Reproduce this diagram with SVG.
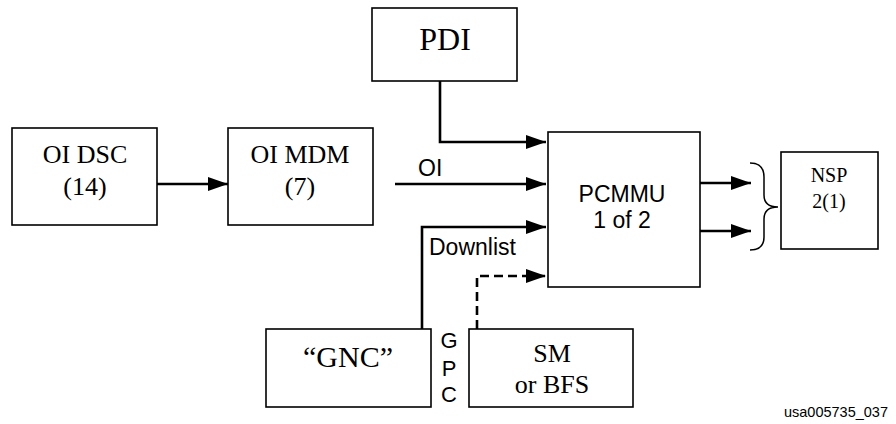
<svg xmlns="http://www.w3.org/2000/svg" width="896" height="424" viewBox="0 0 896 424">
<style>
.box{fill:#fff;stroke:#000;stroke-width:1.6}
.serif{font-family:"Liberation Serif","Times New Roman",serif;fill:#000;text-anchor:middle}
.sans{font-family:"Liberation Sans",Arial,sans-serif;fill:#000}
.conn{fill:none;stroke:#000;stroke-width:2.6}
.dash{stroke-dasharray:9,5}
</style>
<defs>
<marker id="ah" viewBox="0 0 20 14" refX="20" refY="7" markerWidth="20" markerHeight="14" markerUnits="userSpaceOnUse" orient="auto">
<path d="M0,0 L20,7 L0,14 z" fill="#000"/>
</marker>
</defs>
<rect width="896" height="424" fill="#fff"/>
<g id="connectors">
<path class="conn" d="M157,184 L228,184" marker-end="url(#ah)"/>
<path class="conn" d="M440,81 L440,142 L546,142" marker-end="url(#ah)"/>
<path class="conn" d="M395,184 L546,184" marker-end="url(#ah)"/>
<path class="conn" d="M422,329 L422,227 L546,227" marker-end="url(#ah)"/>
<path class="conn dash" d="M477,329 L477,276 L546,276" marker-end="url(#ah)"/>
<path class="conn" d="M700,183 L751,183" marker-end="url(#ah)"/>
<path class="conn" d="M700,231 L751,231" marker-end="url(#ah)"/>
<path fill="none" stroke="#000" stroke-width="1.5" d="M750,163 Q764,163 764,177 L764,195 Q764,207 778,207 Q764,207 764,219 L764,237 Q764,250 750,250"/>
<text class="sans" x="418" y="176" font-size="23">OI</text>
<text class="sans" x="429" y="255" font-size="23">Downlist</text>
<g class="sans" font-size="22" text-anchor="middle">
<text x="449" y="348">G</text>
<text x="449" y="376">P</text>
<text x="449" y="402">C</text>
</g>
</g>
<g id="pdi">
<rect class="box" x="372" y="8" width="145" height="73"/>
<text class="serif" x="445" y="50" font-size="32">PDI</text>
</g>
<g id="oidsc">
<rect class="box" x="12" y="128" width="145" height="97"/>
<text class="serif" x="85" y="163" font-size="26">OI DSC</text>
<text class="serif" x="85" y="195" font-size="26">(14)</text>
</g>
<g id="oimdm">
<rect class="box" x="228" y="128" width="145" height="97"/>
<text class="serif" x="300" y="163" font-size="26">OI MDM</text>
<text class="serif" x="300" y="195" font-size="26">(7)</text>
</g>
<g id="pcmmu">
<rect class="box" x="548" y="132" width="152" height="155"/>
<text class="sans" x="622" y="202" font-size="23" text-anchor="middle">PCMMU</text>
<text class="sans" x="622" y="228" font-size="23" text-anchor="middle">1 of 2</text>
</g>
<g id="nsp">
<rect class="box" x="781" y="152" width="97" height="97"/>
<text class="serif" x="829" y="182" font-size="20">NSP</text>
<text class="serif" x="829" y="208" font-size="20">2(1)</text>
</g>
<g id="gnc">
<rect class="box" x="266" y="329" width="165" height="78"/>
<text class="serif" x="348" y="367" font-size="30">“GNC”</text>
</g>
<g id="sm">
<rect class="box" x="469" y="329" width="164" height="78"/>
<text class="serif" x="552" y="362" font-size="26">SM</text>
<text class="serif" x="552" y="393" font-size="26">or BFS</text>
</g>
<text class="sans" x="888" y="417" font-size="14.5" text-anchor="end">usa005735_037</text>
</svg>
